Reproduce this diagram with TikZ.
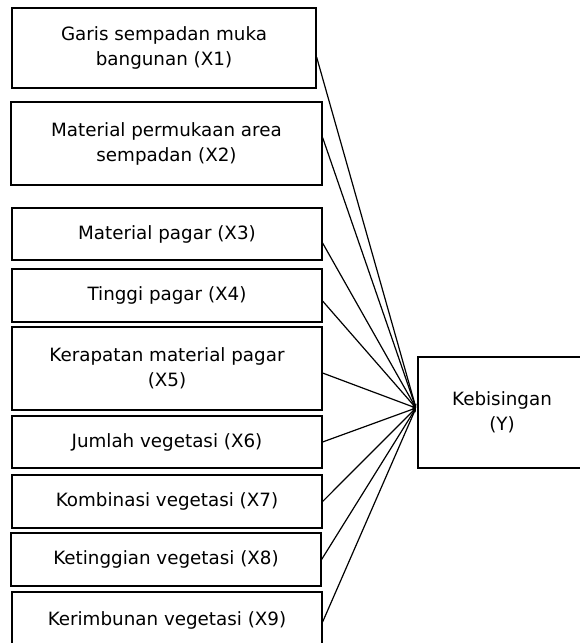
\documentclass[tikz,border=0pt]{standalone}
\usepackage{fontspec}
\setmainfont{DejaVu Sans}
\usetikzlibrary{arrows.meta}
\begin{document}
\begin{tikzpicture}[x=1pt,y=-1pt,
  varbox/.style={draw=black, line width=1.2pt, fill=white, inner sep=0pt, align=center,
    font=\fontsize{18.3}{25}\selectfont},
  link/.style={line width=1.2pt, -{Stealth[length=4pt,width=3pt]}}]
\useasboundingbox (0,0) rectangle (580,643);
\clip (0,0) rectangle (580,643);
\node[varbox, minimum width=304pt, minimum height=80pt] (x1) at (164,48) {Garis sempadan muka\\bangunan (X1)};
\node[varbox, minimum width=311pt, minimum height=83pt] (x2) at (166.5,143.5) {Material permukaan area\\sempadan (X2)};
\node[varbox, minimum width=310pt, minimum height=52pt] (x3) at (167,234) {Material pagar (X3)};
\node[varbox, minimum width=310pt, minimum height=53pt] (x4) at (167,295.5) {Tinggi pagar (X4)};
\node[varbox, minimum width=310pt, minimum height=83pt] (x5) at (167,368.5) {Kerapatan material pagar\\(X5)};
\node[varbox, minimum width=310pt, minimum height=52pt] (x6) at (167,442) {Jumlah vegetasi (X6)};
\node[varbox, minimum width=310pt, minimum height=53pt] (x7) at (167,501.5) {Kombinasi vegetasi (X7)};
\node[varbox, minimum width=310pt, minimum height=53pt] (x8) at (166,559.5) {Ketinggian vegetasi (X8)};
\node[varbox, minimum width=310pt, minimum height=56pt] (x9) at (167,620) {Kerimbunan vegetasi (X9)};
\node[varbox, minimum width=168pt, minimum height=111pt] (y) at (502,412.5) {Kebisingan\\(Y)};
\coordinate (c) at (416,408);
\draw[link] ([yshift=-9pt]x1.east) -- (c);
\draw[link] ([yshift=6pt]x2.east) -- (c);
\draw[link] ([yshift=-9pt]x3.east) -- (c);
\draw[link] ([yshift=-5.5pt]x4.east) -- (c);
\draw[link] ([yshift=-4.5pt]x5.east) -- (c);
\draw[link] (x6.east) -- (c);
\draw[link] (x7.east) -- (c);
\draw[link] (x8.east) -- (c);
\draw[link] ([yshift=-2pt]x9.east) -- (c);
\end{tikzpicture}
\end{document}
